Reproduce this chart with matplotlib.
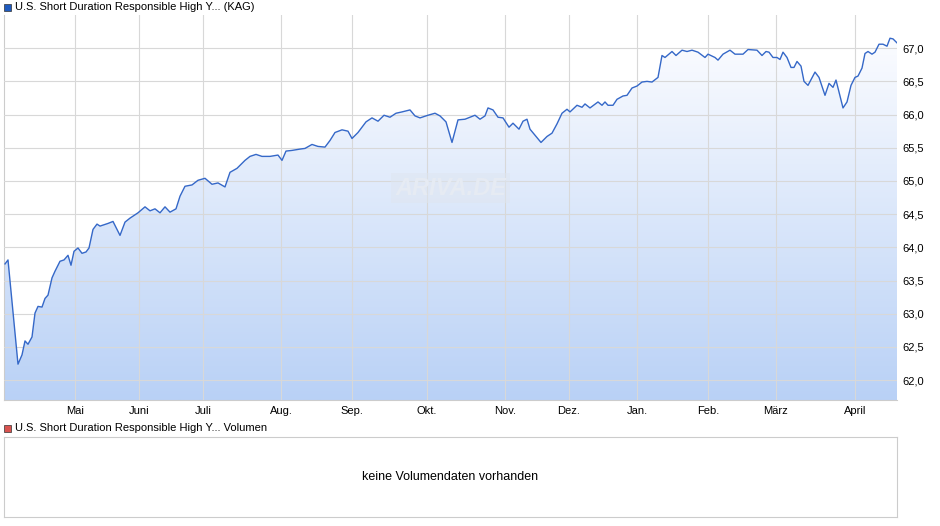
import numpy as np
import matplotlib
matplotlib.use("Agg")
import matplotlib.pyplot as plt
from matplotlib.patches import Polygon, Rectangle
from matplotlib.colors import LinearSegmentedColormap

# position along the time axis (chart units, ~1 unit per screen pixel) and price
xs = [5, 8, 18, 22, 25, 28, 32, 35, 38, 42, 45, 48, 52, 55, 60, 64, 68, 71, 74, 78,
      82, 86, 89, 93, 97, 100, 108, 113, 117, 120, 125, 130, 138, 145, 150, 155, 160,
      165, 170, 176, 180, 185, 192, 198, 205, 212, 218, 225, 230, 237, 245, 250, 256,
      262, 270, 278, 282, 286, 292, 300, 305, 312, 318, 325, 330, 335, 342, 348, 352,
      358, 366, 372, 378, 384, 390, 396, 402, 410, 415, 420, 428, 435, 440, 446, 452,
      458, 465, 470, 475, 480, 485, 488, 493, 498, 503, 509, 513, 519, 523, 527, 530,
      535, 541, 547, 552, 557, 562, 567, 570, 577, 582, 585, 590, 598, 602, 605, 608,
      613, 617, 623, 627, 632, 637, 642, 647, 652, 658, 662, 665, 672, 676, 682, 687,
      692, 698, 705, 708, 715, 718, 723, 730, 735, 743, 748, 757, 762, 766, 769, 773,
      777, 780, 783, 787, 791, 794, 797, 801, 804, 808, 815, 819, 825, 829, 833, 836,
      843, 847, 851, 855, 858, 862, 865, 868, 872, 875, 879, 883, 887, 890, 893, 897]
ys_px = [264, 260, 364, 355, 341, 344, 337, 313, 306, 307, 298, 295, 278, 271, 261, 260,
         255, 265, 251, 248, 253, 252, 248, 229, 224, 226, 223, 221, 229, 235, 222, 218,
         213, 207, 211, 209, 213, 207, 212, 209, 196, 186, 185, 180, 178, 184, 183, 187,
         172, 168, 160, 156, 154, 156, 156, 155, 160, 151, 150, 149, 148, 144, 146, 147,
         140, 132, 130, 131, 138, 132, 122, 118, 121, 115, 117, 113, 112, 110, 116, 118,
         115, 113, 116, 122, 142, 120, 119, 117, 115, 119, 116, 108, 110, 117, 118, 127,
         123, 129, 121, 119, 129, 135, 142, 136, 133, 124, 113, 109, 112, 105, 107, 104,
         108, 102, 105, 102, 105, 105, 99, 96, 95, 88, 86, 82, 81, 82, 77, 55, 57, 51,
         55, 50, 51, 50, 52, 57, 54, 57, 60, 54, 50, 54, 54, 49, 50, 55, 51, 52, 57, 57,
         59, 52, 57, 67, 67, 61, 66, 81, 85, 72, 77, 95, 83, 87, 80, 108, 102, 85, 77, 76,
         68, 53, 51, 54, 52, 44, 44, 46, 38, 39, 43]
prices = [round(67.0 - (y - 48) / 66.4, 2) for y in ys_px]

month_pos = [75, 139, 203, 281, 352, 427, 505, 569, 637, 708, 776, 855]
month_labels = ["Mai", "Juni", "Juli", "Aug.", "Sep.", "Okt.", "Nov.", "Dez.",
                "Jan.", "Feb.", "März", "April"]
y_ticks = [62.0, 62.5, 63.0, 63.5, 64.0, 64.5, 65.0, 65.5, 66.0, 66.5, 67.0]

W, H = 940, 526
fig = plt.figure(figsize=(W / 100, H / 100), dpi=100)
plt.rcParams["font.family"] = ["Liberation Sans", "DejaVu Sans"]

x0, x1 = 4, 897
ax = fig.add_axes([x0 / W, 1 - 400 / H, (x1 - x0) / W, (400 - 15) / H])
ymin, ymax = 61.7, 67.5
ax.set_xlim(x0, x1)
ax.set_ylim(ymin, ymax)

# gradient fill under the line
grad = np.linspace(0, 1, 256).reshape(-1, 1)
cmap = LinearSegmentedColormap.from_list("g", ["#b9d1f6", "#fbfcff"])
top = max(prices)
im = ax.imshow(grad, cmap=cmap, aspect="auto", origin="lower",
               extent=[x0, x1, ymin, top], zorder=1)
poly = Polygon(list(zip(xs, prices)) + [(xs[-1], ymin), (xs[0], ymin)],
               closed=True, transform=ax.transData, facecolor="none", edgecolor="none")
ax.add_patch(poly)
im.set_clip_path(poly)
ax.plot(xs, prices, color="#3568c8", lw=1.0, zorder=3)

ax.set_xticks(month_pos)
ax.set_xticklabels(month_labels, fontsize=8)
ax.set_yticks(y_ticks)
ax.set_yticklabels([f"{v:.1f}".replace(".", ",") for v in y_ticks], fontsize=8)
ax.yaxis.tick_right()
ax.tick_params(length=0, pad=4)
ax.grid(True, color="#d8d8d8", lw=0.8, zorder=2)
ax.set_axisbelow(False)
for s in ["top", "right"]:
    ax.spines[s].set_visible(False)
for s in ["left", "bottom"]:
    ax.spines[s].set_color("#cccccc")
for gl in ax.get_xgridlines() + ax.get_ygridlines():
    gl.set_zorder(2)

ax.text(0.5, 0.55, "ARIVA.DE", transform=ax.transAxes, fontsize=17, fontweight="bold",
        fontstyle="italic", color="#e6ebf3", ha="center", va="center", zorder=4,
        bbox=dict(boxstyle="square,pad=0.15", facecolor="#dfe6f0", edgecolor="none", alpha=0.5))

# legends
fig.patches.append(Rectangle((4 / W, 1 - 11 / H), 7 / W, 7 / H, transform=fig.transFigure,
                             facecolor="#1f5bbf", edgecolor="#333333", lw=0.5))
fig.text(15 / W, 1 - 7 / H, "U.S. Short Duration Responsible High Y... (KAG)",
         fontsize=8, va="center")
fig.patches.append(Rectangle((4 / W, 1 - 432 / H), 7 / W, 7 / H, transform=fig.transFigure,
                             facecolor="#d9534f", edgecolor="#333333", lw=0.5))
fig.text(15 / W, 1 - 428 / H, "U.S. Short Duration Responsible High Y... Volumen",
         fontsize=8, va="center")

# volume panel
ax2 = fig.add_axes([x0 / W, 1 - 517 / H, (x1 - x0) / W, (517 - 437) / H])
ax2.set_xticks([])
ax2.set_yticks([])
for s in ax2.spines.values():
    s.set_color("#cccccc")
ax2.text(0.5, 0.5, "keine Volumendaten vorhanden", transform=ax2.transAxes,
         ha="center", va="center", fontsize=9)

fig.savefig("out.png", dpi=100)
